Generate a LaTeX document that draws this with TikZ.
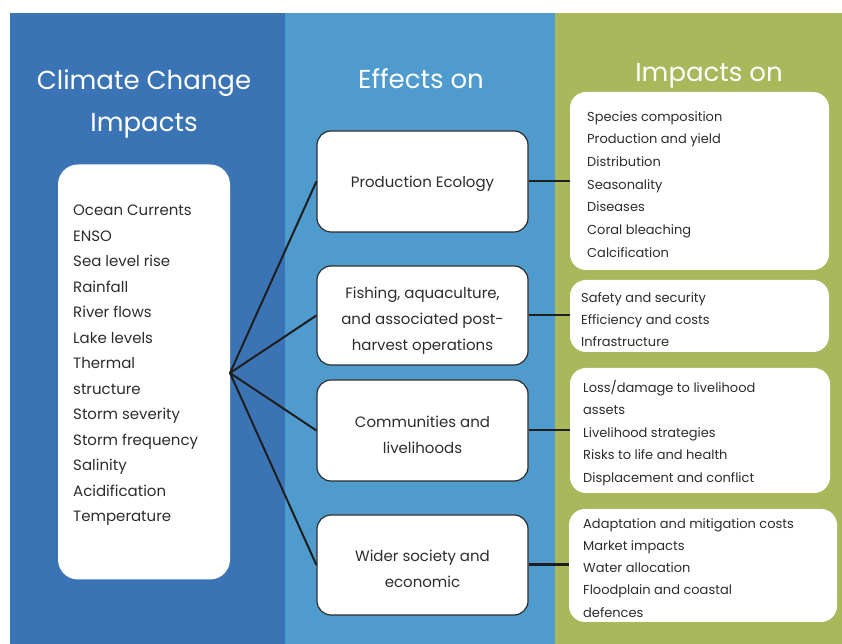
\documentclass[tikz,border=0pt]{standalone}
\usepackage{fontspec}
\setmainfont{Poppins}
\definecolor{pdark}{RGB}{59,116,181}
\definecolor{pmid}{RGB}{79,155,205}
\definecolor{pgreen}{RGB}{168,184,90}
\definecolor{txt}{RGB}{45,45,45}
\definecolor{linec}{RGB}{30,30,30}
\tikzset{
  paneltitle/.style={text=white,align=center,font=\fontsize{26}{42}\selectfont,inner sep=0pt},
  leftbox/.style={fill=white,rounded corners=20pt,minimum width=172pt,minimum height=415pt,inner sep=0pt},
  midbox/.style={fill=white,draw=txt,line width=1.2pt,rounded corners=14pt,minimum width=211pt,inner sep=0pt},
  midtext/.style={text=txt,align=center,font=\fontsize{15}{26}\selectfont,inner sep=0pt},
  rightbox/.style={fill=white,rounded corners=16pt,inner sep=0pt},
  listtext/.style={text=txt,align=left,inner sep=0pt,anchor=north west},
  conn/.style={draw=linec,line width=2pt},
}
\begin{document}
\begin{tikzpicture}[x=1pt,y=1pt]
\useasboundingbox (0,0) rectangle (842,644);
\fill[white] (0,0) rectangle (842,644);
\fill[pdark] (10,0) rectangle (285,631);
\fill[pmid] (285,0) rectangle (555,631);
\fill[pgreen] (555,0) rectangle (842,631);
% titles
\node[paneltitle] (t1) at (144,540) {Climate Change\\Impacts};
\node[paneltitle] (t2) at (421,565) {Effects on};
\node[paneltitle] (t3) at (709,568) {Impacts on};
% left box
\node[leftbox] (lb) at (144,272) {};
\node[listtext,font=\fontsize{15}{25.5}\selectfont] (lt) at (73,439) {Ocean Currents\\ENSO\\Sea level rise\\Rainfall\\River flows\\Lake levels\\Thermal\\structure\\Storm severity\\Storm frequency\\Salinity\\Acidification\\Temperature};
\coordinate (hub) at (230,271);
% middle boxes
\node[midbox,minimum height=101pt] (m1) at (422.5,462.5) {};
\node[midbox,minimum height=99pt] (m2) at (422.5,328.5) {};
\node[midbox,minimum height=101pt] (m3) at (422.5,213.5) {};
\node[midbox,minimum height=100pt] (m4) at (422.5,79) {};
\node[midtext] (mt1) at ([yshift=-2pt]m1.center) {Production Ecology};
\node[midtext] (mt2) at ([yshift=-5pt]m2.center) {Fishing, aquaculture,\\and associated post-\\harvest operations};
\node[midtext] (mt3) at ([yshift=-4pt]m3.center) {Communities and\\livelihoods};
\node[midtext] (mt4) at ([yshift=-4pt]m4.center) {Wider society and\\economic};
% right boxes
\node[rightbox,minimum width=259pt,minimum height=178pt] (r1) at (699.5,463) {};
\node[rightbox,minimum width=259pt,minimum height=72pt] (r2) at (699.5,328) {};
\node[rightbox,minimum width=260pt,minimum height=125pt] (r3) at (700,213.5) {};
\node[rightbox,minimum width=268pt,minimum height=113pt] (r4) at (703,78.5) {};
\node[listtext,font=\fontsize{13}{22.7}\selectfont] (rt1) at (587,533) {Species composition\\Production and yield\\Distribution\\Seasonality\\Diseases\\Coral bleaching\\Calcification};
\node[listtext,font=\fontsize{13}{22.2}\selectfont] (rt2) at (581,352) {Safety and security\\Efficiency and costs\\Infrastructure};
\node[listtext,font=\fontsize{13}{22.5}\selectfont] (rt3) at (583,264) {Loss/damage to livelihood\\assets\\Livelihood strategies\\Risks to life and health\\Displacement and conflict};
\node[listtext,font=\fontsize{13}{22.3}\selectfont] (rt4) at (583,126) {Adaptation and mitigation costs\\Market impacts\\Water allocation\\Floodplain and coastal\\defences};
% connectors
\draw[conn] (hub) -- (m1.west);
\draw[conn] (hub) -- (m2.west);
\draw[conn] (hub) -- (m3.west);
\draw[conn] (hub) -- (m4.west);
\draw[conn] (m1.east) -- (m1.east -| r1.west);
\draw[conn] (m2.east) -- (m2.east -| r2.west);
\draw[conn] (m3.east) -- (m3.east -| r3.west);
\draw[conn,line width=3pt] (m4.east) -- (m4.east -| r4.west);
\end{tikzpicture}
\end{document}
